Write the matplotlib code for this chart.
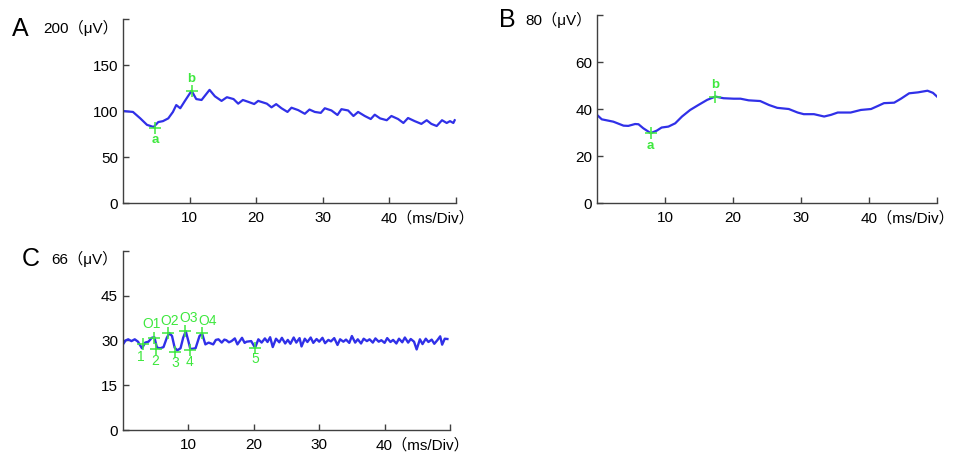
import matplotlib
matplotlib.use("Agg")
import matplotlib.pyplot as plt
import matplotlib.transforms as mtransforms

plt.rcParams['font.family'] = ['Liberation Sans', 'Noto Sans CJK SC', 'DejaVu Sans']

# panel A: wave trace (ms, uV)
a_time = [0.0, 1.5, 2.6, 3.6, 4.6, 5.3, 6.0, 6.8, 7.5, 8.0, 8.6, 9.3, 10.3, 11.0, 11.8,
          13.0, 13.8, 14.8, 15.6, 16.6, 17.3, 18.0, 18.8, 19.7, 20.3, 21.6, 22.3, 23.0,
          23.8, 24.7, 25.3, 26.3, 27.3, 28.0, 28.8, 29.7, 30.3, 31.3, 32.2, 32.8, 33.8,
          34.6, 35.3, 36.3, 37.2, 37.8, 38.6, 39.6, 40.3, 41.3, 42.1, 42.8, 43.8, 44.8,
          45.6, 46.3, 47.1, 47.9, 48.6, 49.1, 49.6, 49.8]
a_value = [100, 99, 92, 85, 82.6, 88, 89, 92, 99, 106.5, 103, 111, 122, 113, 112,
           123, 116, 111, 115, 113, 108, 112, 110, 107.6, 111, 108, 104, 107.5,
           103, 99, 103.6, 101, 97, 101.6, 99, 98, 103, 100.6, 95.7, 102, 100.6,
           94.6, 99, 94.6, 91.3, 96, 92, 90, 94.6, 91.3, 87, 92.4, 89, 86,
           90, 86, 83.7, 90, 87, 89, 87, 90]
a_marks = ["a", "b"]
a_mark_t = [4.8, 10.3]
a_mark_v = [82, 122]
a_label_v = [68, 135]

# panel B
b_time = [0.0, 0.7, 2.4, 3.9, 4.6, 5.6, 6.1, 6.8, 7.9, 8.8, 9.5, 10.5, 11.5, 12.5, 13.7,
          14.9, 16.2, 17.4, 18.6, 20.1, 21.1, 22.3, 24.0, 25.3, 26.5, 28.2, 29.5, 30.4,
          31.9, 33.4, 34.4, 35.4, 37.3, 38.8, 40.3, 41.3, 42.2, 43.7, 44.7, 45.9, 47.2,
          48.6, 49.4, 50.0]
b_value = [37.6, 35.7, 34.7, 33.0, 32.9, 33.7, 33.6, 31.9, 29.8, 30.9, 32.2, 32.6, 34.0,
           36.9, 39.7, 41.8, 44.0, 45.4, 44.7, 44.5, 44.5, 43.8, 43.5, 41.8, 40.6, 40.1,
           38.6, 37.9, 37.9, 36.9, 37.6, 38.6, 38.6, 39.7, 40.1, 41.4, 42.6, 42.8, 44.5,
           46.8, 47.2, 47.9, 47.0, 45.4]
b_marks = ["a", "b"]
b_mark_t = [7.9, 17.4]
b_mark_v = [30.0, 45.4]
b_label_v = [24.5, 50.3]

# panel C: oscillatory potentials
c_time = [0.0, 0.4, 0.8, 1.3, 1.8, 2.3, 2.9, 3.4, 3.9, 4.4, 4.8, 5.2, 5.7, 6.2, 6.7, 7.1,
          7.5, 7.9, 8.3, 8.8, 9.2, 9.6, 10.0, 10.3, 11.1, 11.7, 12.1, 12.6, 13.1, 13.8,
          14.2, 14.6, 15.1, 15.5, 15.8, 16.2, 16.6, 17.1, 17.5, 18.2, 18.6, 18.9, 19.6,
          20.2, 20.7, 21.2, 21.7, 22.1, 22.5, 22.9, 23.4, 23.9, 24.3, 24.8, 25.2, 25.6,
          26.1, 26.5, 27.0, 27.3, 27.8, 28.2, 28.7, 29.1, 29.6, 30.0, 30.5, 30.9, 31.4,
          31.8, 32.3, 32.8, 33.2, 33.7, 34.1, 34.6, 35.0, 35.5, 35.9, 36.4, 36.8, 37.3,
          37.7, 38.2, 38.6, 39.1, 39.5, 40.0, 40.4, 40.9, 41.3, 41.8, 42.2, 42.7, 43.1,
          43.6, 44.0, 44.5, 44.9, 45.4, 45.8, 46.3, 46.7, 47.2, 47.6, 48.1, 48.5, 48.8,
          49.2, 49.6]
c_value = [28.7, 30.0, 30.4, 29.8, 30.4, 29.6, 27.4, 29.3, 29.6, 30.9, 31.1, 27.6, 27.4,
           27.8, 30.9, 32.5, 31.5, 27.6, 26.7, 27.4, 30.9, 33.1, 29.8, 27.1, 27.4, 31.5,
           32.3, 28.7, 29.3, 28.7, 30.2, 30.4, 29.3, 30.3, 30.1, 29.4, 29.8, 30.7, 28.7,
           30.9, 29.2, 29.6, 29.8, 27.6, 30.4, 29.3, 30.7, 29.5, 31.1, 27.8, 30.6, 29.4,
           30.9, 29.0, 30.2, 28.9, 31.0, 29.3, 30.8, 28.0, 30.6, 29.5, 31.0, 29.2, 30.5,
           29.6, 30.9, 29.1, 30.2, 29.7, 30.8, 28.5, 30.4, 29.6, 30.3, 29.2, 31.5, 29.3,
           30.4, 29.0, 30.6, 29.8, 30.4, 29.3, 30.7, 29.6, 30.1, 29.2, 30.8, 29.5, 30.2,
           29.0, 30.6, 29.4, 31.0, 29.3, 30.5, 29.6, 27.0, 30.4, 28.8, 30.6, 29.5, 30.3,
           28.9, 30.2, 31.4, 28.6, 30.6, 30.5]
c_mark_t = [3.1, 4.7, 5.1, 6.9, 7.9, 9.5, 10.2, 12.1, 20.2]
c_mark_v = [28.7, 30.9, 27.0, 32.6, 26.3, 33.3, 26.8, 32.6, 27.6]
c_labels = ["1", "O1", "2", "O2", "3", "O3", "4", "O4", "5"]
c_label_t = [2.8, 4.3, 5.0, 7.2, 8.0, 10.1, 10.2, 13.0, 20.2]
c_label_v = [24.5, 35.4, 23.2, 36.5, 22.6, 37.5, 22.8, 36.4, 23.9]

x_ticks = [10, 20, 30, 40, 50]
x_ticklabels = ["10", "20", "30", "40（ms/Div）", ""]

LINE = "#3030e8"
GREEN = "#3ee83e"
AXC = "#404040"
TICK_FS = 11

fig = plt.figure(figsize=(9.54, 4.55), dpi=100)


def style_axes(ax, ymax, yticks, top_label, top_shift):
    ax.set_xlim(0, 50)
    ax.set_ylim(0, ymax)
    for side in ("top", "right"):
        ax.spines[side].set_visible(False)
    for side in ("left", "bottom"):
        ax.spines[side].set_color(AXC)
        ax.spines[side].set_linewidth(1.0)
    ax.set_xticks(x_ticks)
    ax.set_xticklabels(x_ticklabels)
    ax.set_yticks(yticks)
    ax.set_yticklabels([str(v) for v in yticks[:-1]] + [top_label])
    ax.tick_params(axis="both", direction="in", length=4, width=1, color=AXC,
                   labelsize=TICK_FS)
    ax.tick_params(axis="x", pad=6)
    ax.tick_params(axis="y", pad=3.5)
    top = ax.get_yticklabels()[-1]
    top.set_transform(top.get_transform() + mtransforms.ScaledTranslation(
        0, -top_shift / 72, fig.dpi_scale_trans))
    # keep "40" centred on its tick, unit text runs to the right
    unit = ax.get_xticklabels()[3]
    unit.set_horizontalalignment("left")
    half = 0.556 * TICK_FS
    unit.set_transform(unit.get_transform() + mtransforms.ScaledTranslation(
        -half / 72, 0, fig.dpi_scale_trans))


axA = fig.add_axes([0.1289, 0.5538, 0.3491, 0.4044])
axA.plot(a_time, a_value, color=LINE, lw=1.6)
axA.plot(a_mark_t, a_mark_v, "+", color=GREEN, ms=9, mew=1.1)
for lab, t, v in zip(a_marks, a_mark_t, a_label_v):
    axA.text(t, v, lab, color=GREEN, fontsize=9.5, ha="center", va="center",
             fontweight="bold")
style_axes(axA, 200, [0, 50, 100, 150, 200], "200（μV）", 5.5)

axB = fig.add_axes([0.6258, 0.5538, 0.3564, 0.4122])
axB.plot(b_time, b_value, color=LINE, lw=1.6)
axB.plot(b_mark_t, b_mark_v, "+", color=GREEN, ms=9, mew=1.1)
for lab, t, v in zip(b_marks, b_mark_t, b_label_v):
    axB.text(t, v, lab, color=GREEN, fontsize=9.5, ha="center", va="center",
             fontweight="bold")
style_axes(axB, 80, [0, 20, 40, 60, 80], "80（μV）", 2.5)

axC = fig.add_axes([0.1289, 0.0549, 0.3428, 0.3935])
axC.plot(c_time, c_value, color=LINE, lw=1.7)
axC.plot(c_mark_t, c_mark_v, "+", color=GREEN, ms=9, mew=1.1)
for lab, t, v in zip(c_labels, c_label_t, c_label_v):
    axC.text(t, v, lab, color=GREEN, fontsize=10, ha="center", va="center")
style_axes(axC, 60, [0, 15, 30, 45, 60], "66（μV）", 4.5)

for lab, x, y in [("A", 0.021, 0.936), ("B", 0.532, 0.955), ("C", 0.0325, 0.431)]:
    fig.text(x, y, lab, fontsize=18, ha="center", va="center")

fig.savefig("out.png", dpi=100)
